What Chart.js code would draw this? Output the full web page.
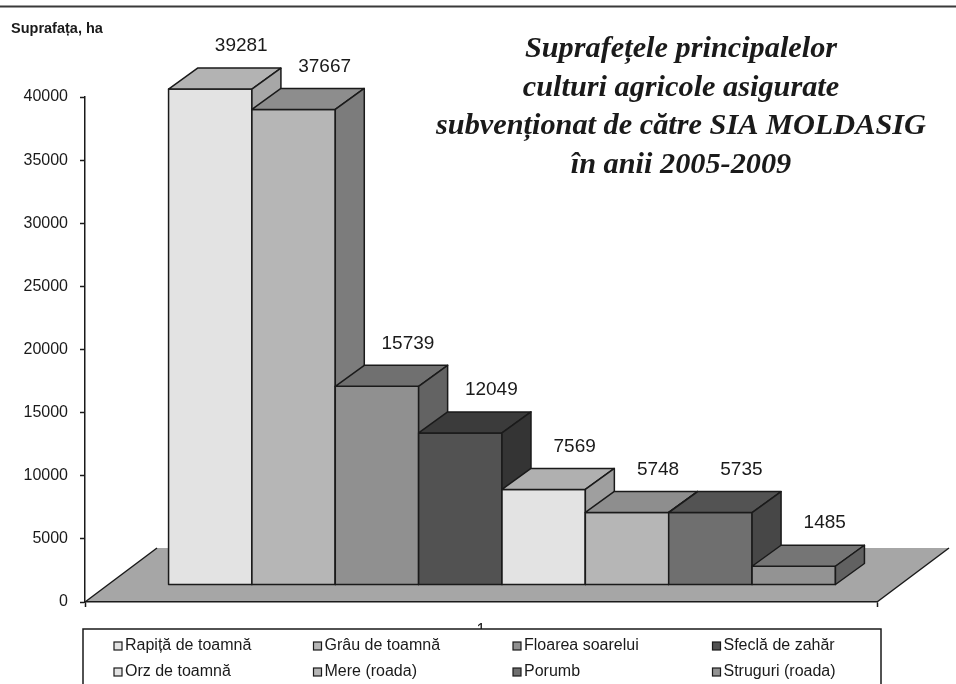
<!DOCTYPE html>
<html>
<head>
<meta charset="utf-8">
<title>Suprafețele principalelor culturi agricole</title>
<script src="https://cdn.jsdelivr.net/npm/chart.js@4.4.0/dist/chart.umd.min.js"></script>
<style>
  html, body { margin: 0; padding: 0; background: #fff; }
  canvas { display: block; }
</style>
</head>
<body>
<canvas id="canvas" width="956" height="684"></canvas>
<script>
'use strict';

// datele graficului
var categories = ['1'];
var crops = ['Rapiță de toamnă', 'Grâu de toamnă', 'Floarea soarelui', 'Sfeclă de zahăr',
             'Orz de toamnă', 'Mere (roada)', 'Porumb', 'Struguri (roada)'];
var areas = [39281, 37667, 15739, 12049, 7569, 5748, 5735, 1485];
var yTicks = [0, 5000, 10000, 15000, 20000, 25000, 30000, 35000, 40000];
var titleLines = ['Suprafețele principalelor', 'culturi agricole asigurate',
                  'subvenționat de către SIA MOLDASIG', 'în anii 2005-2009'];
var yTitle = 'Suprafața, ha';

// culori: fata, capac, lateral
var frontColors = ['#e3e3e3', '#b6b6b6', '#909090', '#525252', '#e3e3e3', '#b6b6b6', '#6f6f6f', '#939393'];
var topColors   = ['#b3b3b3', '#8d8d8d', '#707070', '#3b3b3b', '#b0b0b0', '#8e8e8e', '#535353', '#757575'];
var sideColors  = ['#a7a7a7', '#7c7c7c', '#636363', '#343434', '#9f9f9f', '#7c7c7c', '#474747', '#616161'];

var INK = '#1a1a1a';
var SANS = '"Liberation Sans", Arial, sans-serif';
var DEPTH_X = 29, DEPTH_Y = -21;   // adancimea barelor
var SHIFT_X = 21, SHIFT_Y = -17;   // barele stau la mijlocul podelei
var FLOOR_X = 72, FLOOR_Y = -54;   // adancimea podelei

function poly(ctx, pts, fill) {
	ctx.beginPath();
	ctx.moveTo(pts[0][0], pts[0][1]);
	for (var k = 1; k < pts.length; k++) ctx.lineTo(pts[k][0], pts[k][1]);
	ctx.closePath();
	ctx.fillStyle = fill;
	ctx.fill();
	ctx.stroke();
}

var bar3d = {
	id: 'bar3d',
	beforeDraw: function (chart) { // podeaua
		var ctx = chart.ctx, a = chart.chartArea;
		ctx.save();
		ctx.beginPath();
		ctx.moveTo(a.left, a.bottom);
		ctx.lineTo(a.right, a.bottom);
		ctx.lineTo(a.right + FLOOR_X, a.bottom + FLOOR_Y);
		ctx.lineTo(a.left + FLOOR_X, a.bottom + FLOOR_Y);
		ctx.closePath();
		ctx.fillStyle = '#a6a6a6';
		ctx.fill();
		ctx.strokeStyle = INK;
		ctx.lineWidth = 1.5;
		ctx.beginPath();
		ctx.moveTo(a.left, a.bottom);
		ctx.lineTo(a.left + FLOOR_X, a.bottom + FLOOR_Y);
		ctx.moveTo(a.right, a.bottom);
		ctx.lineTo(a.right + FLOOR_X, a.bottom + FLOOR_Y);
		ctx.stroke();
		ctx.restore();
	},
	// barele native se deseneaza mutate pe podea
	beforeDatasetDraw: function (chart) {
		chart.ctx.save();
		chart.ctx.translate(SHIFT_X, SHIFT_Y);
	},
	afterDatasetDraw: function (chart) {
		chart.ctx.restore();
	},
	afterDatasetsDraw: function (chart) {
		var ctx = chart.ctx;
		ctx.save();
		ctx.translate(SHIFT_X, SHIFT_Y);
		ctx.lineWidth = 1.5;
		ctx.lineJoin = 'round';
		ctx.strokeStyle = INK;
		// de la stanga la dreapta, ca fiecare bara sa acopere latura celei dinainte
		for (var i = 0; i < chart.data.datasets.length; i++) {
			var p = chart.getDatasetMeta(i).data[0].getProps(['x', 'y', 'base', 'width'], true);
			var l = p.x - p.width / 2, r = p.x + p.width / 2;
			poly(ctx, [[l, p.y], [r, p.y], [r, p.base], [l, p.base]], frontColors[i]);
			poly(ctx, [[l, p.y], [r, p.y], [r + DEPTH_X, p.y + DEPTH_Y], [l + DEPTH_X, p.y + DEPTH_Y]], topColors[i]);
			poly(ctx, [[r, p.y], [r + DEPTH_X, p.y + DEPTH_Y], [r + DEPTH_X, p.base + DEPTH_Y], [r, p.base]], sideColors[i]);
		}
		// etichetele valorilor
		ctx.font = '19px ' + SANS;
		ctx.fillStyle = INK;
		ctx.textAlign = 'center';
		ctx.textBaseline = 'middle';
		chart.data.datasets.forEach(function (ds, i) {
			var p = chart.getDatasetMeta(i).data[0].getProps(['x', 'y'], true);
			ctx.fillText(String(ds.data[0]), p.x + 31, p.y + DEPTH_Y - 22);
		});
		ctx.restore();
	},
	afterDraw: function (chart) {
		var ctx = chart.ctx;
		ctx.save();
		// linia de sus
		ctx.strokeStyle = '#3a3a3a';
		ctx.lineWidth = 2;
		ctx.beginPath();
		ctx.moveTo(0, 6.5);
		ctx.lineTo(chart.width, 6.5);
		ctx.stroke();

		// titlul axei Y
		ctx.fillStyle = INK;
		ctx.font = 'bold 14.5px ' + SANS;
		ctx.textAlign = 'left';
		ctx.textBaseline = 'alphabetic';
		ctx.fillText(yTitle, 11, 33);

		// titlul
		ctx.font = 'bold italic 100px "Liberation Serif", serif';
		var size = 100 * 490 / ctx.measureText(titleLines[2]).width;
		ctx.font = 'bold italic ' + size.toFixed(1) + 'px "Liberation Serif", serif';
		ctx.textAlign = 'center';
		titleLines.forEach(function (t, k) {
			ctx.fillText(t, 681, 57 + k * 38.5);
		});

		// legenda
		ctx.fillStyle = '#fff';
		ctx.fillRect(83, 629, 798, 70);
		ctx.strokeStyle = INK;
		ctx.lineWidth = 1.5;
		ctx.strokeRect(83, 629, 798, 70);
		ctx.font = '16px ' + SANS;
		ctx.textAlign = 'left';
		ctx.textBaseline = 'middle';
		ctx.lineWidth = 1.2;
		crops.forEach(function (name, i) {
			var mx = 114 + (i % 4) * 199.5;
			var my = i < 4 ? 646 : 672;
			ctx.fillStyle = frontColors[i];
			ctx.fillRect(mx, my - 4, 8, 8);
			ctx.strokeRect(mx, my - 4, 8, 8);
			ctx.fillStyle = INK;
			ctx.fillText(name, mx + 11, my);
		});
		ctx.restore();
	}
};

var datasets = crops.map(function (name, i) {
	return {
		label: name,
		data: [areas[i]],
		backgroundColor: frontColors[i],
		borderWidth: 0,
		categoryPercentage: 0.842,
		barPercentage: 1,
		clip: false
	};
});

window.onload = function () {
	var ctx = document.getElementById('canvas').getContext('2d');
	window.myBar = new Chart(ctx, {
		type: 'bar',
		data: { labels: categories, datasets: datasets },
		plugins: [bar3d],
		options: {
			responsive: false,
			animation: false,
			layout: { padding: { top: 97, right: 79, left: 0, bottom: 0 } },
			plugins: {
				legend: { display: false },
				title: { display: false },
				tooltip: { enabled: false }
			},
			scales: {
				x: {
					afterFit: function (scale) { scale.height = 82; },
					ticks: { color: INK, font: { family: SANS, size: 16 }, padding: 14 },
					grid: { drawOnChartArea: false, offset: true, tickLength: 5, tickColor: INK, tickWidth: 1.5 },
					border: { color: INK, width: 1.5 }
				},
				y: {
					min: 0,
					max: 40000,
					afterFit: function (scale) { scale.width = 85; },
					afterBuildTicks: function (scale) {
						scale.ticks = yTicks.map(function (v) { return { value: v }; });
					},
					ticks: {
						color: INK,
						font: { family: SANS, size: 16 },
						padding: 12,
						callback: function (v) { return String(v); }
					},
					grid: { drawOnChartArea: false, tickLength: 5, tickColor: INK, tickWidth: 1.5 },
					border: { color: INK, width: 1.5 }
				}
			}
		}
	});
};
</script>
</body>
</html>
